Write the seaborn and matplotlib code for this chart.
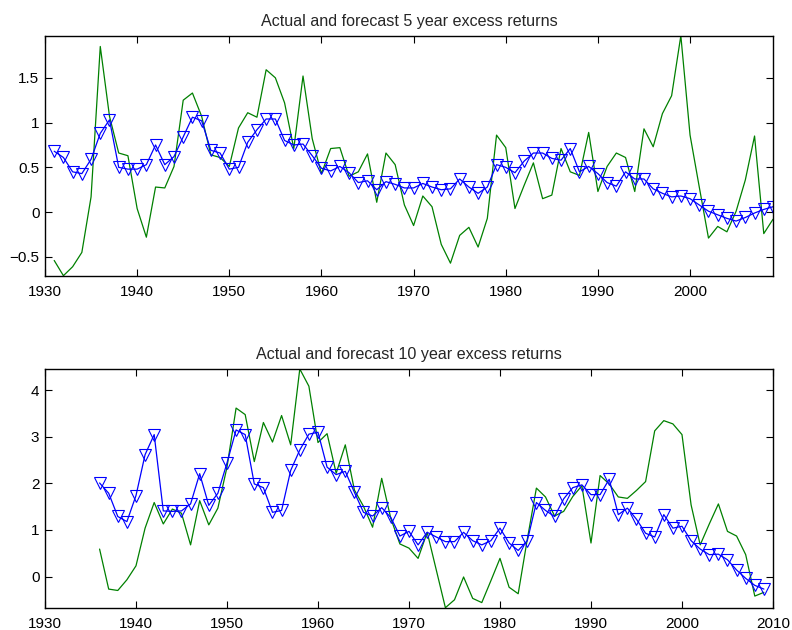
import numpy as np
import pandas as pd
import matplotlib
matplotlib.use("Agg")
import matplotlib.pyplot as plt
import seaborn as sns

# 5-year excess returns, 1931-2009
years_5 = list(range(1931, 2010))
actual_5 = [-0.54, -0.71, -0.61, -0.45, 0.17, 1.85, 1.07, 0.66, 0.63, 0.04,
            -0.28, 0.28, 0.27, 0.51, 1.25, 1.33, 1.07, 0.64, 0.61, 0.51,
            0.94, 1.11, 1.06, 1.59, 1.50, 1.22, 0.71, 1.52, 0.82, 0.43,
            0.71, 0.72, 0.40, 0.45, 0.65, 0.11, 0.66, 0.53, 0.08, -0.15,
            0.18, 0.06, -0.36, -0.57, -0.26, -0.17, -0.39, -0.07, 0.86, 0.72,
            0.04, 0.30, 0.55, 0.15, 0.19, 0.71, 0.45, 0.41, 0.89, 0.23,
            0.51, 0.66, 0.61, 0.23, 0.93, 0.73, 1.10, 1.30, 1.97, 0.86,
            0.28, -0.29, -0.16, -0.22, 0.01, 0.36, 0.85, -0.24, -0.08]
forecast_5 = [0.68, 0.61, 0.45, 0.43, 0.59, 0.88, 1.03, 0.50, 0.48, 0.48,
              0.53, 0.75, 0.53, 0.62, 0.84, 1.06, 1.02, 0.69, 0.66, 0.48,
              0.50, 0.78, 0.92, 1.04, 1.04, 0.80, 0.75, 0.76, 0.63, 0.49,
              0.46, 0.51, 0.44, 0.33, 0.35, 0.25, 0.34, 0.31, 0.27, 0.27,
              0.32, 0.28, 0.25, 0.26, 0.37, 0.28, 0.21, 0.28, 0.53, 0.50,
              0.44, 0.57, 0.66, 0.66, 0.60, 0.58, 0.71, 0.45, 0.51, 0.43,
              0.33, 0.29, 0.45, 0.37, 0.37, 0.26, 0.21, 0.17, 0.18, 0.15,
              0.08, 0.01, -0.03, -0.07, -0.10, -0.06, -0.01, 0.03, 0.06]

# 10-year excess returns, 1936-2009
years_10 = list(range(1936, 2010))
actual_10 = [0.59, -0.27, -0.30, -0.07, 0.23, 1.04, 1.59, 1.13, 1.45, 1.36,
             0.68, 1.63, 1.11, 1.47, 2.35, 3.62, 3.48, 2.47, 3.31, 2.89,
             3.46, 2.83, 4.46, 4.09, 2.88, 3.07, 2.22, 2.83, 1.86, 1.51,
             1.06, 2.11, 1.25, 0.70, 0.61, 0.39, 0.95, 0.14, -0.67, -0.50,
             -0.01, -0.47, -0.56, -0.09, 0.39, -0.23, -0.37, 0.80, 1.90, 1.71,
             1.30, 1.40, 1.72, 1.95, 0.72, 2.17, 1.99, 1.71, 1.68, 1.85,
             2.04, 3.13, 3.35, 3.28, 3.05, 1.54, 0.68, 1.13, 1.56, 0.97,
             0.87, 0.47, -0.42, -0.34]
forecast_10 = [2.01, 1.79, 1.29, 1.18, 1.74, 2.62, 3.05, 1.41, 1.40, 1.41,
               1.56, 2.21, 1.53, 1.79, 2.44, 3.15, 3.05, 1.99, 1.91, 1.38,
               1.42, 2.28, 2.72, 3.06, 3.10, 2.35, 2.19, 2.26, 1.81, 1.38,
               1.30, 1.48, 1.27, 0.87, 0.97, 0.68, 0.95, 0.85, 0.75, 0.75,
               0.95, 0.77, 0.68, 0.77, 1.04, 0.72, 0.56, 0.77, 1.59, 1.42,
               1.29, 1.67, 1.91, 1.97, 1.76, 1.76, 2.09, 1.33, 1.47, 1.23,
               0.93, 0.85, 1.33, 1.04, 1.08, 0.77, 0.59, 0.47, 0.48, 0.36,
               0.14, -0.04, -0.19, -0.27]

titles = ["Actual and forecast 5 year excess returns",
          "Actual and forecast 10 year excess returns"]

sns.set_style("white")
plt.rcParams["font.family"] = ["Liberation Sans", "DejaVu Sans"]
plt.rcParams["font.size"] = 11

GREEN = "#008000"
BLUE = "#0000ff"

fig = plt.figure(figsize=(7.92, 6.30), dpi=100)
ax1 = fig.add_axes([0.0568, 0.5624, 0.9192, 0.3809])
ax2 = fig.add_axes([0.0568, 0.0354, 0.9192, 0.3789])

panels = [
    (ax1, years_5, actual_5, forecast_5, titles[0], (1930, 2009),
     [1930, 1940, 1950, 1960, 1970, 1980, 1990, 2000],
     [-0.5, 0, 0.5, 1, 1.5], ["\u22120.5", "0", "0.5", "1", "1.5"]),
    (ax2, years_10, actual_10, forecast_10, titles[1], (1930, 2010),
     [1930, 1940, 1950, 1960, 1970, 1980, 1990, 2000, 2010],
     [0, 1, 2, 3, 4], ["0", "1", "2", "3", "4"]),
]

for ax, yrs, act, fc, title, xlim, xt, yt, ytl in panels:
    df = pd.DataFrame({"year": yrs, "actual": act, "forecast": fc})
    sns.lineplot(data=df, x="year", y="actual", ax=ax, color=GREEN,
                 linewidth=0.9)
    sns.lineplot(data=df, x="year", y="forecast", ax=ax, color=BLUE,
                 linewidth=0.9, marker="v", markersize=8.5,
                 markerfacecolor="none", markeredgecolor=BLUE,
                 markeredgewidth=0.8)
    lo = min(min(act), min(fc))
    hi = max(max(act), max(fc))
    ax.set_xlim(*xlim)
    ax.set_ylim(lo, hi)
    ax.set_xticks(xt)
    ax.set_yticks(yt)
    ax.set_yticklabels(ytl)
    ax.set_xlabel("")
    ax.set_ylabel("")
    ax.set_title(title, fontsize=11.6, pad=7)
    ax.tick_params(direction="in", length=5, width=0.8, top=True,
                   right=True, labelsize=11, colors="black")
    ax.tick_params(axis="x", bottom=True, pad=7)
    ax.tick_params(axis="y", left=True, pad=4)
    for s in ax.spines.values():
        s.set_color("black")
        s.set_linewidth(1.0)

fig.savefig("out.png", dpi=100)
